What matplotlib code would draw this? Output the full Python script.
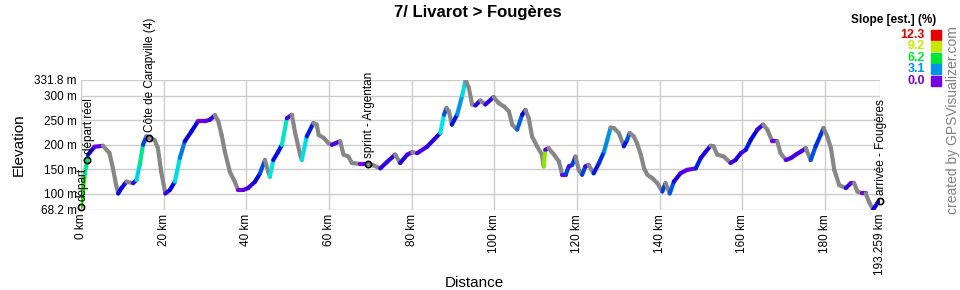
import colorsys
import numpy as np
import matplotlib
matplotlib.use("Agg")
import matplotlib.pyplot as plt
from matplotlib.collections import LineCollection

plt.rcParams['font.family'] = ['Liberation Sans', 'DejaVu Sans']

# profil (km, m)
distance_km = [
    0, 0.9, 1.7, 3.3, 5.3, 6.9, 7.7, 8.5, 9.0, 9.8, 11.0, 12.6, 13.4, 14.2, 15.0, 15.8, 16.6, 17.8,
    18.6, 19.4, 20.4, 21.5, 22.7, 23.9, 25.1, 26.7, 28.3, 29.9, 31.2, 32.4, 33.2, 34.0, 34.8, 36.0,
    37.2, 38.0, 39.2, 40.4, 42.1, 43.3, 44.5, 45.3, 45.7, 46.5, 47.7, 48.6, 49.8, 51.0, 51.8, 53.0,
    53.4, 54.6, 56.2, 57.0, 57.5, 58.7, 59.9, 60.7, 61.5, 62.7, 63.5, 64.7, 65.5, 67.6, 69.3, 70.8,
    72.4, 74.0, 76.0, 77.2, 78.9, 80.1, 81.3, 83.7, 85.3, 86.9, 87.8, 88.4, 89.0, 89.7, 91.0, 92.2,
    93.0, 93.8, 94.6, 95.4, 96.6, 97.8, 99.8, 101.0, 102.3, 103.5, 104.3, 105.5, 106.7, 107.5, 108.3,
    109.1, 110.3, 111.5, 111.9, 112.3, 113.1, 114.4, 115.6, 116.4, 117.2, 118.0, 118.8, 119.6, 120.4,
    121.2, 122.0, 122.8, 124.0, 125.3, 126.5, 127.3, 128.1, 128.9, 130.1, 131.3, 132.1, 132.7, 133.7,
    134.5, 135.4, 136.2, 137.0, 138.2, 139.4, 140.6, 141.4, 142.4, 143.4, 145.0, 146.6, 148.7, 149.9,
    151.1, 152.3, 153.0, 153.9, 155.5, 157.1, 158.3, 159.6, 160.8, 162.0, 163.6, 165.0, 166.0, 167.2,
    168.4, 169.2, 170.5, 171.7, 172.9, 174.1, 175.3, 176.5, 177.7, 178.9, 179.6, 180.5, 181.4, 182.2,
    183.4, 185.0, 186.2, 187.0, 187.8, 189.0, 189.8, 190.6, 191.6, 192.6, 193.259,
]
elevation_m = [
    74, 139, 180, 196, 198, 183, 153, 118, 101, 112, 125, 122, 128, 159, 200, 217, 214, 210,
    193, 145, 101, 108, 125, 173, 207, 227, 248, 248, 251, 260, 248, 220, 186, 145,
    125, 108, 108, 112, 125, 142, 169, 145, 135, 169, 186, 200, 254, 261, 224, 180,
    169, 217, 244, 241, 220, 214, 203, 200, 203, 207, 180, 176, 163, 161, 161, 158,
    152, 165, 180, 163, 180, 185, 183, 196, 210, 224, 261, 275, 268, 241, 262, 300,
    331.8, 316, 282, 280, 290, 282, 297, 285, 278, 268, 241, 231, 261, 271, 254,
    217, 197, 180, 156, 190, 193, 180, 166, 139, 139, 156, 159, 176, 149,
    139, 156, 159, 142, 163, 186, 210, 235, 234, 224, 197, 210, 224, 217,
    203, 180, 152, 139, 132, 122, 105, 122, 101, 125, 142, 149, 152, 173,
    186, 198, 197, 180, 176, 163, 169, 183, 190, 210, 231, 241, 231, 207,
    207, 183, 169, 173, 180, 186, 193, 169, 197, 220, 234, 217, 193, 149,
    118, 112, 122, 122, 105, 101, 101, 84, 68.2, 81, 86,
]

waypoint_names = ["départ", "départ réel", "Côte de Carapville (4)", "sprint - Argentan", "arrivée - Fougères"]
waypoint_km = [0.0, 1.5, 16.4, 69.3, 193.259]
waypoint_m = [74, 169, 214, 161, 86]

x_ticks = [0, 20, 40, 60, 80, 100, 120, 140, 160, 180, 193.259]
x_tick_labels = ["0 km", "20 km", "40 km", "60 km", "80 km", "100 km", "120 km", "140 km",
                 "160 km", "180 km", "193.259 km"]
y_ticks = [68.2, 100, 150, 200, 250, 300, 331.8]
y_tick_labels = ["68.2 m", "100 m", "150 m", "200 m", "250 m", "300 m", "331.8 m"]

legend_values = [12.3, 9.2, 6.2, 3.1, 0.0]
SLOPE_MAX = 12.3


def slope_color(s):
    # violet (0 %) -> rouge (12.3 %), gris en descente
    if s < 0:
        return (0.53, 0.53, 0.53)
    f = min(s / SLOPE_MAX, 1.0)
    return colorsys.hsv_to_rgb(0.75 * (1 - f), 1.0, 0.9)


x = np.array(distance_km)
z = np.array(elevation_m)
pente = np.diff(z) / (np.diff(x) * 1000) * 100
pts = np.column_stack([x, z]).reshape(-1, 1, 2)
segments = np.concatenate([pts[:-1], pts[1:]], axis=1)
couleurs = [slope_color(s) for s in pente]

fig = plt.figure(figsize=(9.6, 2.9), dpi=100)
ax = fig.add_axes([81 / 960, 1 - 209.6 / 290, 799 / 960, 129.6 / 290])

ax.add_collection(LineCollection(segments, colors=couleurs, linewidths=3.0,
                                 capstyle='round', joinstyle='round', zorder=3))

ax.set_xlim(0, 193.259)
ax.set_ylim(68.2, 331.8)
ax.set_xticks(x_ticks)
ax.set_xticklabels(x_tick_labels, rotation=90, fontsize=8.5)
ax.set_yticks(y_ticks)
ax.set_yticklabels(y_tick_labels, fontsize=8.5)
ax.tick_params(length=0, pad=3)
ax.grid(True, color='#cccccc', linewidth=1)
for sp in ax.spines.values():
    sp.set_visible(False)

for nom, wk, wm in zip(waypoint_names, waypoint_km, waypoint_m):
    ax.plot(wk, wm, marker='o', ms=4.5, mfc='none', mec='black', mew=1.2, zorder=5, clip_on=False)
    ax.annotate(nom, (wk, wm), xytext=(1, 4), textcoords='offset points', rotation=90,
                ha='center', va='bottom', fontsize=8.5, annotation_clip=False, zorder=6)

fig.text(474 / 960, 1 - 283 / 290, 'Distance', ha='center', va='center', fontsize=11)
ax.set_ylabel('Elevation', fontsize=11, labelpad=6)

fig.text(478 / 960, 1 - 12 / 290, '7/ Livarot > Fougères', ha='center', va='center',
         fontsize=12, fontweight='bold')

# légende des pentes
fig.text(936 / 960, 1 - 20 / 290, 'Slope [est.] (%)', ha='right', va='center',
         fontsize=8.5, fontweight='bold')
for i, v in enumerate(legend_values):
    yc = 1 - (34.5 + i * 11.6) / 290
    c = slope_color(v)
    fig.text(925 / 960, yc, f'{v:.1f}', ha='right', va='center', fontsize=9, color=c,
             fontweight='bold')
    fig.patches.append(plt.Rectangle((931 / 960, yc - 5 / 290), 10 / 960, 10 / 290,
                                     transform=fig.transFigure, color=c, figure=fig))

fig.text(953 / 960, 1 - 120 / 290, 'created by GPSVisualizer.com', rotation=90,
         ha='center', va='center', fontsize=10, color='#808080')

plt.savefig('out.png', dpi=100)
